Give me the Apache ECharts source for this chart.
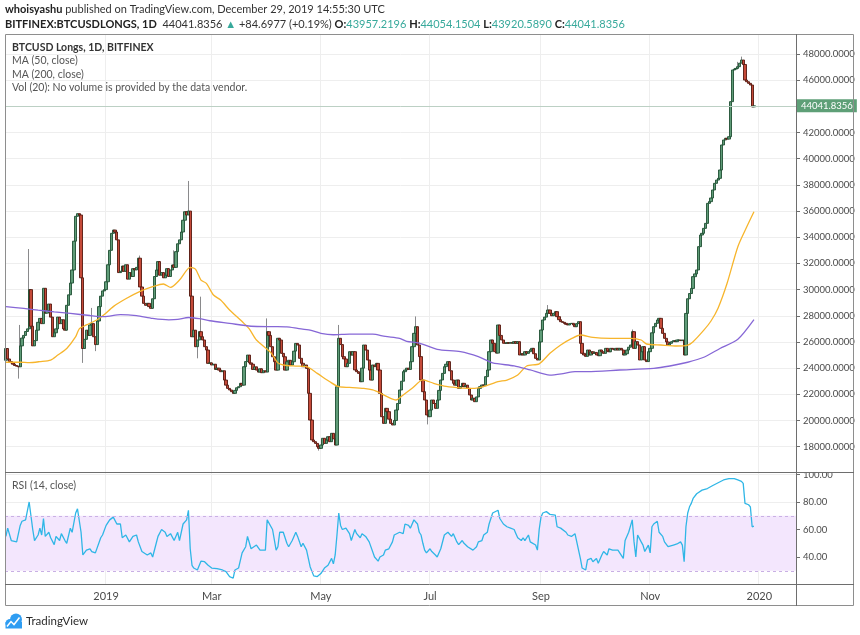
<!DOCTYPE html>
<html>
<head>
<meta charset="utf-8">
<script src="https://cdn.jsdelivr.net/npm/echarts@6/dist/echarts.min.js"></script>
<style>
html,body{margin:0;padding:0;background:#ffffff;}
#chart{width:860px;height:635px;}
</style>
</head>
<body>
<div id="chart"></div>
<script>
// ---------------- DATA ----------------
const START_DATE = '2018-11-06';      // first daily candle
const AXIS_DAYS = 442;                // days on the time axis (through 2020-01-21)
const firstOpen = 24600;

// Daily closes, 2018-11-06 .. 2019-12-29 (one value per day)
const closes = [
  25500, 24700, 24500, 24400, 24300, 24200, 24150, 24100, 25700, 26300,
  26500, 26800, 27000, 30000, 27200, 25700, 26100, 26900, 27500, 27800,
  27400, 30100, 28200, 28400, 28900, 27900, 26400, 26700, 27000, 27900,
  27400, 27700, 27000, 26900, 28800, 29600, 30500, 31500, 33700, 35600,
  35800, 35700, 30900, 25500, 26200, 26900, 26500, 27300, 27400, 26400,
  25800, 27600, 28700, 29500, 29900, 30000, 30600, 31900, 33000, 34300,
  34550, 34400, 33800, 31300, 31400, 31800, 31400, 31900, 30800, 31300,
  31000, 31600, 31500, 31700, 32400, 30200, 29500, 28950, 28800, 28950,
  28700, 28570, 29300, 31000, 31500, 32140, 31100, 31300, 30900, 31100,
  31600, 31000, 31500, 31880, 31700, 32900, 33500, 33800, 34400, 35300,
  35950, 35700, 36000, 29500, 26400, 26900, 25640, 26150, 26785, 26400,
  26150, 25640, 25384, 24365, 24400, 24240, 24300, 23900, 24000, 23850,
  23730, 23800, 23090, 22700, 22455, 22330, 22200, 22073, 22300, 22500,
  22580, 22838, 22700, 24110, 24500, 25000, 24400, 24300, 23900, 24100,
  23850, 23700, 23950, 23650, 23800, 23700, 26785, 26500, 25640, 24870,
  24490, 23850, 26280, 26150, 25130, 24870, 23850, 24490, 24600, 24240,
  24490, 25300, 25890, 25770, 24750, 24370, 24110, 24240, 23980, 22075,
  20035, 18510, 18380, 18250, 18000, 17870, 18130, 18640, 18250, 18510,
  18760, 18380, 19020, 18600, 18125, 22580, 26280, 25800, 24875, 24700,
  24110, 24365, 25257, 25000, 25257, 23860, 23730, 23600, 22964, 24000,
  25767, 25380, 24620, 23850, 23090, 24240, 24110, 24365, 23856, 22070,
  20290, 19780, 20928, 20674, 20100, 19782, 19655, 20000, 20800, 21300,
  22330, 23000, 23730, 23857, 24000, 23900, 24494, 25640, 26660, 27168,
  25770, 24880, 23093, 22200, 21565, 20420, 20291, 20800, 21565, 21300,
  20928, 21565, 22300, 23093, 23600, 24112, 24300, 24494, 23800, 23093,
  22840, 22700, 23093, 22456, 22600, 22840, 22584, 22700, 22456, 21950,
  21565, 21700, 21438, 21800, 22456, 22584, 22711, 22700, 23350, 23857,
  25258, 26150, 25900, 25258, 25150, 27296, 26500, 26150, 25900, 25895,
  25950, 25900, 25960, 25900, 26022, 25895, 26022, 25003, 25100, 25003,
  25258, 25130, 25258, 25400, 25512, 25100, 24749, 24621, 26000, 26914,
  27678, 27900, 28187, 28442, 28187, 28000, 28187, 28314, 27932, 27700,
  27550, 27500, 27423, 27350, 27296, 27400, 27423, 27300, 27168, 27400,
  27550, 25895, 25131, 25003, 24900, 25385, 25003, 25250, 25130, 25200,
  25003, 24950, 25385, 25250, 25130, 25513, 25300, 25250, 25513, 25450,
  25385, 25513, 25385, 25513, 25385, 25003, 25100, 25385, 25600, 25767,
  26786, 25513, 26022, 25767, 24621, 25258, 25640, 24621, 24500, 25258,
  25513, 26700, 27168, 27423, 27678, 27805, 27041, 26659, 26277, 26000,
  25767, 25900, 26022, 26100, 26022, 26150, 26150, 26100, 26150, 25003,
  28180, 29300, 29700, 30090, 30990, 31200, 31500, 33280, 34170, 34300,
  34680, 35060, 36590, 36720, 37000, 37610, 38120, 38370, 38500, 39140,
  41050, 41430, 41560, 41500, 41680, 44360, 46780, 46850, 46900, 47030,
  47300, 47540, 47200, 46010, 45880, 45760, 45630, 43957.2196, 44041.8356
];

// Visible wicks: [day index from START_DATE, price]
const wickHighs = [[8,27300],[13,33100],[48,28600],[75,32600],[94,33000],[102,38300],[109,29460],
  [146,27800],[186,27300],[229,27950],[303,28820],[350,26950],[409,47400],[411,47800]];
const wickLows = [[7,23200],[43,24400],[50,25300],[107,24750],[175,17700],[236,19700]];

// MA (50, close): [day index, value]
const ma50Points = [[0,24450],[8,24450],[13,24420],[19,24500],[25,24620],[29,25000],[34,25500],[39,26400],
  [41,27000],[45,27300],[51,27700],[55,28100],[60,28700],[67,29300],[75,29860],[82,30220],[88,30430],
  [92,30170],[97,30730],[103,31700],[106,31550],[109,30730],[112,30480],[116,29590],[120,29200],
  [125,28440],[128,28060],[133,27420],[136,27000],[140,26150],[148,25200],[152,24400],[155,24240],
  [162,24160],[168,24110],[174,23600],[181,22960],[186,22580],[192,22530],[200,22450],[205,22330],
  [209,22100],[213,21820],[218,21565],[222,21950],[227,22456],[233,23100],[239,22840],[246,22600],
  [255,22480],[262,22456],[268,22635],[275,22966],[280,23093],[286,23475],[291,24163],[298,24330],
  [304,25131],[310,25770],[316,26250],[321,26530],[328,26353],[338,26277],[349,26270],[355,26150],
  [358,25844],[366,25767],[375,25691],[381,25760],[384,26022],[390,26900],[394,27600],[398,28600],
  [403,30480],[409,33280],[414,34800],[418,35950]];

// MA (200, close): [day index, value]
const ma200Points = [[0,28700],[10,28560],[18,28430],[27,28300],[36,28180],[47,28020],[55,27930],
  [64,28090],[73,28010],[82,27800],[91,27690],[96,27720],[102,27870],[108,27780],[114,27620],
  [125,27420],[137,27200],[150,27170],[157,27150],[163,27040],[170,26910],[176,26660],[183,26550],
  [192,26600],[205,26600],[212,26420],[220,26280],[224,26050],[231,25920],[241,25440],[254,25260],
  [264,24880],[272,24400],[284,24170],[293,23860],[304,23470],[312,23600],[318,23730],[325,23730],
  [343,23857],[362,23985],[371,24163],[381,24450],[390,24830],[399,25500],[409,26200],[418,27700]];

// RSI (14, close): [day index, value]
const rsiPoints = [[0,55],[1,61],[3,52],[6,51],[8,63],[9,66],[11,67],[13,80],
  [15,60],[16,52],[18,56],[19,61],[20,56],[21,68],[22,55],[24,58],[25,54],[27,49],[28,55],[30,52],
  [31,57],[33,52],[34,50],[36,61],[37,58],[39,72],[40,75],
  [42,58],[43,41.5],[45,45],[47,46],[48,44],[50,43],[53,54],[54,56],[56,63],[58,67],[60,69],[62,64],
  [64,64],[65,54],[67,56],[69,51],[71,55],[73,56],[74,51],[76,44],[79,41.5],[81,43],[82,40],[84,50],
  [85,55],[87,60],[89,58],[90,55],[92,57],[94,52],[96,58],[97,52],[99,64],[101,67],[102,74],
  [103,46],[104,34],[105,32],[107,30.6],[109,37],[111,36.6],[113,34],[115,32],[118,31.5],[121,30.6],
  [123,29.4],[125,25.8],[127,24.6],
  [128,30.6],[130,32],[132,43],[134,47.5],[135,55],[137,46],[138,45],[140,48.7],[142,45],[145,45],[146,67],
  [147,67.4],[149,60],[151,45],[152,47.5],[153,58],[155,58],[157,50],[158,47.5],[160,52],[162,58],
  [163,55],[165,47.5],[166,50],[168,45],[169,39],[170,33],[172,26.3],[174,25.8],
  [176,28],[178,32],[180,34],[182,39],[183,35],[184,41.5],[185,56],[186,72],
  [187,63],[188,60],[190,61],[192,57],[193,52],[195,60],[196,57],[198,54],[199,57],[201,55],[203,51],
  [204,52],[206,40],[208,37],[209,40],[211,41.5],[212,45],[214,46],[216,51],[217,56],[218,57],[220,58],
  [222,57],[223,64],[225,63],[226,61],[228,67],[229,68],
  [230,64],[231,58],[232,56],[233,50],[234,45],[235,43],[237,46],[238,44],[240,41.5],[241,40],[243,46],
  [245,56],[247,58],[249,55],[250,57],[252,51],[253,49],[255,52],[256,50],[258,47.5],[259,48.7],[261,45],
  [263,47.5],[264,51],[266,52],[267,56],[269,58],[270,64],[272,72],[273,73],[275,74],
  [276,68],[277,66],[278,64],[280,62],[281,62],[282,61],[284,60],[285,57],[286,54],[288,52],[289,54],
  [290,52],[292,56],[293,51],[294,50],[296,48.7],[297,45],[298,60],
  [299,69],[300,72],[302,73],[304,71],[305,72],[307,70.5],[308,62],[310,61],[311,62],[313,58],[314,56],
  [316,55],[318,57],[319,58],[321,39],
  [322,32],[324,30.6],[325,37.9],[327,39],[328,36.6],[330,39],[331,35.4],[333,41.5],[334,44],[336,41.5],
  [337,46],[339,45],[340,46],[342,45],[343,44],[345,39],[346,52],[347,51],[348,58],[350,67],
  [351,51],[352,40],[353,56],[355,51],[356,48.7],[357,44],[359,48.7],[360,43],[361,62],[362,64],[364,66],
  [365,58],[367,55],[368,51],[370,47.5],[371,48.7],[373,48.7],[374,50],[375,49.5],[377,51],[378,48.7],[379,36.6],
  [380,62],[381,72],[382,76.5],[383,79],[384,82.6],[386,86],[389,88.6],[392,89.8],[395,92],[398,94],
  [401,96],[404,97],[407,97],[409,96],[411,95],[412,93.5],[413,79],[415,78],[416,76.5],[417,62],[418,62.4]];

const priceTicks = [18000,20000,22000,24000,26000,28000,30000,32000,34000,36000,38000,40000,42000,44000,46000,48000];
const rsiTicks = [40, 60, 80, 100];
const rsiBand = [30, 70];
const timeLabels = {'2019-01-01':'2019','2019-03-01':'Mar','2019-05-01':'May','2019-07-01':'Jul',
                    '2019-09-01':'Sep','2019-11-01':'Nov','2020-01-01':'2020'};

// ---------------- BUILD ----------------
const days = [];
const t0 = Date.parse(START_DATE + 'T00:00:00Z');
for (let k = 0; k < AXIS_DAYS; k++) days.push(new Date(t0 + k * 86400000).toISOString().slice(0, 10));

const highMap = new Map(wickHighs);
const lowMap = new Map(wickLows);
const bodies = [], wicks = [];
closes.forEach((c, i) => {
  const o = i === 0 ? firstOpen : closes[i - 1];
  const lo = Math.min(o, c), hi = Math.max(o, c);
  bodies.push([o, c, lo, hi]);
  wicks.push([o, c, lowMap.has(i) ? lowMap.get(i) : lo, highMap.has(i) ? highMap.get(i) : hi]);
});
const lastPrice = closes[closes.length - 1];

const FONT = 'Lato';
const GRID_LINE = '#eeeeee';
const AXIS_TEXT = '#4a4a4a';
const FRAME = '#8e8e8e';
const SEP = '#6e6e6e';
const isMonth = (i, v) => Object.prototype.hasOwnProperty.call(timeLabels, v);

function txt(x, y, text, size, color, weight, rich) {
  return {type: 'text', x: x, y: y, z: 120, silent: true,
    style: {text: text, fontFamily: FONT, fontSize: size, fontWeight: weight || 'normal', fill: color,
            align: 'left', verticalAlign: 'middle', rich: rich || undefined}};
}

const chart = echarts.init(document.getElementById('chart'), null, {renderer: 'canvas'});
chart.setOption({
  animation: false,
  backgroundColor: '#ffffff',
  textStyle: {fontFamily: FONT},
  grid: [
    {left: 5, top: 34, width: 791, height: 438},
    {left: 5, top: 472, width: 791, height: 112}
  ],
  xAxis: [
    {type: 'category', gridIndex: 0, data: days, boundaryGap: true,
     axisLine: {show: false}, axisTick: {show: false}, axisLabel: {show: false},
     splitLine: {show: true, interval: isMonth, lineStyle: {color: GRID_LINE}}},
    {type: 'category', gridIndex: 1, data: days, boundaryGap: true,
     axisLine: {show: false}, axisTick: {show: false},
     axisLabel: {show: true, interval: isMonth, formatter: v => timeLabels[v] || '',
                 color: AXIS_TEXT, fontSize: 11, fontFamily: FONT, margin: 7},
     splitLine: {show: true, interval: isMonth, lineStyle: {color: GRID_LINE}}}
  ],
  yAxis: [
    {type: 'value', gridIndex: 0, position: 'right', min: 16065, max: 49528,
     axisLine: {show: false},
     axisTick: {show: true, inside: false, length: 4, customValues: priceTicks, lineStyle: {color: SEP}},
     axisLabel: {show: true, customValues: priceTicks, formatter: v => Number(v).toFixed(4),
                 color: AXIS_TEXT, fontSize: 9.5, fontFamily: FONT, margin: 7},
     splitLine: {show: true, lineStyle: {color: GRID_LINE}}},
    {type: 'value', gridIndex: 1, position: 'right', min: 20.4, max: 101.8,
     axisLine: {show: false},
     axisTick: {show: true, inside: false, length: 4, customValues: rsiTicks, lineStyle: {color: SEP}},
     axisLabel: {show: true, customValues: rsiTicks, formatter: v => Number(v).toFixed(2),
                 color: AXIS_TEXT, fontSize: 9.5, fontFamily: FONT, margin: 7},
     splitLine: {show: true, lineStyle: {color: GRID_LINE}}}
  ],
  series: [
    {type: 'candlestick', name: 'wicks', xAxisIndex: 0, yAxisIndex: 0, data: wicks, barWidth: 0.1, silent: true,
     itemStyle: {color: '#7b7b7d', color0: '#7b7b7d', borderColor: '#8a8a8c', borderColor0: '#8a8a8c', borderWidth: 1}},
    {type: 'candlestick', name: 'BTCUSD Longs', xAxisIndex: 0, yAxisIndex: 0, data: bodies, barWidth: 2.8, silent: true,
     itemStyle: {color: '#5f9c78', color0: '#c54a39', borderColor: '#1f4f33', borderColor0: '#561910', borderWidth: 0.9},
     markLine: {silent: true, symbol: ['none', 'none'], animation: false,
       data: [{yAxis: lastPrice}],
       lineStyle: {color: '#bcd0c4', type: 'solid', width: 1},
       label: {show: true, position: 'end', distance: 1, formatter: () => lastPrice.toFixed(4),
               color: '#ffffff', backgroundColor: '#5e9f77', padding: [2, 4, 1, 4],
               fontSize: 9.5, fontFamily: FONT}}},
    {type: 'line', name: 'MA (50, close)', xAxisIndex: 0, yAxisIndex: 0, data: ma50Points,
     symbol: 'none', smooth: 0.25, silent: true, lineStyle: {color: '#f7b52c', width: 1.3}},
    {type: 'line', name: 'MA (200, close)', xAxisIndex: 0, yAxisIndex: 0, data: ma200Points,
     symbol: 'none', smooth: 0.25, silent: true, lineStyle: {color: '#8667d6', width: 1.3}},
    {type: 'line', name: 'RSI (14, close)', xAxisIndex: 1, yAxisIndex: 1, data: rsiPoints,
     symbol: 'none', silent: true, lineStyle: {color: '#2fb6e6', width: 1.3},
     markArea: {silent: true, itemStyle: {color: '#f3e6fd'},
       data: [[{yAxis: rsiBand[0]}, {yAxis: rsiBand[1]}]]},
     markLine: {silent: true, symbol: ['none', 'none'], label: {show: false},
       lineStyle: {color: '#c9b0e4', type: [3, 3], width: 1},
       data: [{yAxis: rsiBand[0]}, {yAxis: rsiBand[1]}]}}
  ],
  graphic: [
    {type: 'rect', z: 110, silent: true, shape: {x: 797, y: 462, width: 56, height: 10.5}, style: {fill: '#ffffff'}},
    {type: 'rect', z: 130, silent: true, shape: {x: 5.5, y: 34.5, width: 848, height: 571},
     style: {fill: 'none', stroke: FRAME, lineWidth: 1}},
    {type: 'line', z: 130, silent: true, shape: {x1: 796.5, y1: 34, x2: 796.5, y2: 606}, style: {stroke: SEP, lineWidth: 1}},
    {type: 'line', z: 130, silent: true, shape: {x1: 5, y1: 472.5, x2: 854, y2: 472.5}, style: {stroke: SEP, lineWidth: 1}},
    {type: 'line', z: 130, silent: true, shape: {x1: 5, y1: 584.5, x2: 854, y2: 584.5}, style: {stroke: SEP, lineWidth: 1}},
    txt(5, 9, '{b|whoisyashu} published on TradingView.com, December 29, 2019 14:55:30 UTC', 11, '#333333', 'normal',
        {b: {fontFamily: FONT, fontSize: 11, fontWeight: 'bold', fill: '#222222'}}),
    txt(5, 24, '{b|BITFINEX:BTCUSDLONGS, 1D}  44041.8356 {t|▲} +84.6977 (+0.19%) {b|O:}{t|43957.2196} {b|H:}{t|44054.1504} {b|L:}{t|43920.5890} {b|C:}{t|44041.8356}',
        11, '#333333', 'normal',
        {b: {fontFamily: FONT, fontSize: 11, fontWeight: 'bold', fill: '#222222'},
         t: {fontFamily: FONT, fontSize: 11, fill: '#37a99b'}}),
    txt(12, 47.5, 'BTCUSD Longs, 1D, BITFINEX', 10.5, '#333333', 'bold'),
    txt(12, 61, 'MA (50, close)', 10.5, '#555555'),
    txt(12, 74.2, 'MA (200, close)', 10.5, '#555555'),
    txt(12, 87.5, 'Vol (20): No volume is provided by the data vendor.', 10.5, '#555555'),
    txt(12, 485.5, 'RSI (14, close)', 10.5, '#555555'),
    {type: 'group', z: 120, silent: true, children: [
      {type: 'circle', shape: {cx: 10, cy: 623.5, r: 4.5}, style: {fill: '#2f9df2'}},
      {type: 'circle', shape: {cx: 16, cy: 619.5, r: 6}, style: {fill: '#2f9df2'}},
      {type: 'rect', shape: {x: 5.5, y: 622, width: 16.5, height: 6.5}, style: {fill: '#2f9df2'}},
      {type: 'polyline', shape: {points: [[7, 626.5], [11, 621.5], [14, 624.5], [19.5, 617.5]]},
       style: {stroke: '#ffffff', lineWidth: 1.5, fill: null}}
    ]},
    txt(26, 621.5, 'TradingView', 11.5, '#2b2b2b')
  ]
});
</script>
</body>
</html>
